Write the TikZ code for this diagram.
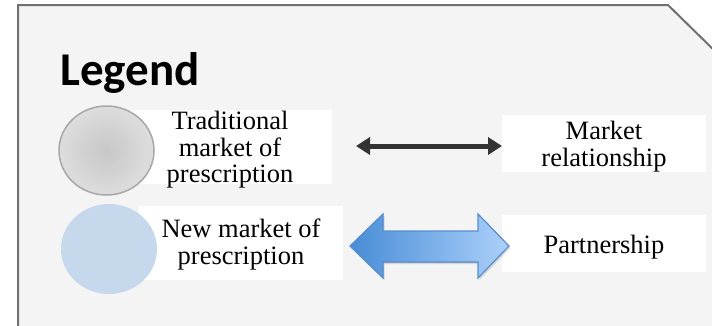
\documentclass[tikz,border=0pt]{standalone}
\usepackage{fontspec}
\setmainfont{Liberation Serif}
\newfontfamily\legendfont{Carlito}
\definecolor{panelgray}{RGB}{244, 244, 244}
\definecolor{panelline}{RGB}{112, 112, 112}
\definecolor{tradgray}{RGB}{196, 196, 196}
\definecolor{tradedge}{RGB}{168, 168, 168}
\definecolor{newblue}{RGB}{197, 216, 236}
\definecolor{arrowdark}{RGB}{51, 51, 51}
\definecolor{partblue1}{RGB}{72, 141, 214}
\definecolor{partblue2}{RGB}{172, 208, 250}
\definecolor{partedge}{RGB}{88, 142, 206}
\usetikzlibrary{arrows.meta, positioning, shadows}

\begin{document}
\begin{tikzpicture}[x=1pt, y=-1pt,
  labbox/.style={fill=white, inner sep=0pt, minimum width=204pt},
  labtext/.style={inner sep=0pt, align=center, font=\fontsize{26.5}{26.5}\selectfont},
  arr/.style={{Triangle[length=14pt, width=17pt]}-{Triangle[length=14pt, width=17pt]}, line width=5pt, draw=arrowdark},
]
  \useasboundingbox (0, 0) rectangle (712, 325);

  % Panel
  \filldraw[fill=panelgray, draw=panelline, line width=2pt] (18, 340) -- (18, 5) -- (668, 5) -- (720, 56) -- (720, 340) -- cycle;

  % Title
  \node[anchor=base west, inner sep=0pt, font=\legendfont\bfseries\fontsize{47}{50}\selectfont] (title) at (60, 85) {Legend};

  % White boxes
  \node[labbox, minimum height=74pt] (tradbox) at (230, 147) {};
  \node[labbox, minimum height=74pt] (newbox) at (240.5, 243) {};
  \node[labbox, minimum height=57pt] (mktbox) at (603.5, 143.5) {};
  \node[labbox, minimum height=57pt] (partbox) at (603.5, 243.5) {};

  % Labels
  \node[labtext] (trad) at (230, 150) {Traditional\\market of\\prescription};
  \node[labtext] (new) at (241, 244.5) {New market of\\prescription};
  \node[labtext] (mkt) at (604, 146.5) {Market\\relationship};
  \node[labtext] (part) at (604, 247) {Partnership};

  % Circles
  \draw[draw=tradedge, line width=1.5pt, inner color=tradgray, outer color=tradgray!60!white, fill opacity=0.92] (106.5, 150.5) ellipse [x radius=47.5, y radius=44.5];
  \fill[newblue] (109, 249) ellipse [x radius=48, y radius=45];

  % Arrows
  \coordinate (mktL) at (356, 146);
  \coordinate (mktR) at (502, 146);
  \draw[arr] (mktL) -- (mktR);

  \filldraw[draw=partedge, line width=1.2pt, left color=partblue1, right color=partblue2,
    drop shadow={shadow xshift=1.5pt, shadow yshift=-2pt, opacity=0.25}]
    (350, 246) -- (383, 214) -- (383, 231) -- (478, 231) -- (478, 214) -- (509, 246)
    -- (478, 278) -- (478, 262) -- (383, 262) -- (383, 278) -- cycle;
\end{tikzpicture}
\end{document}
